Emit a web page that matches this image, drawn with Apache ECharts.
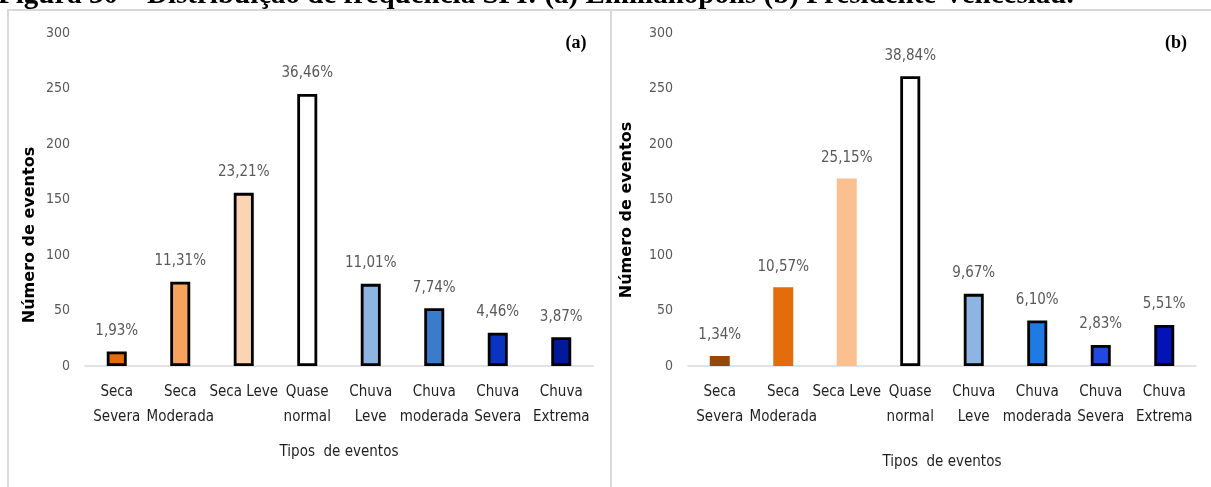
<!DOCTYPE html>
<html>
<head>
<meta charset="utf-8">
<script src="https://cdn.jsdelivr.net/npm/echarts@6/dist/echarts.min.js"></script>
<style>
html,body{margin:0;padding:0;background:#fff;}
#chart{width:1211px;height:487px;}
</style>
</head>
<body>
<div id="chart"></div>
<script>
// ---- data ----
const categories = ['Seca\nSevera', 'Seca\nModerada', 'Seca Leve', 'Quase\nnormal', 'Chuva\nLeve', 'Chuva\nmoderada', 'Chuva\nSevera', 'Chuva\nExtrema'];
const countsA = [13, 76, 156, 245, 74, 52, 30, 26];
const pctA = ['1,93%', '11,31%', '23,21%', '36,46%', '11,01%', '7,74%', '4,46%', '3,87%'];
const countsB = [9, 71, 169, 261, 65, 41, 19, 37];
const pctB = ['1,34%', '10,57%', '25,15%', '38,84%', '9,67%', '6,10%', '2,83%', '5,51%'];
const yMin = 0, yMax = 300, yStep = 50;
const titleText = 'Figura 30 – Distribuição de frequência SPI: (a) Emilianópolis (b) Presidente Venceslau.';
const xAxisTitle = 'Tipos  de eventos';
const yAxisTitle = 'Número de eventos';

// ---- styles ----
const colorsA = ['#E26B0A', '#F5A35E', '#FBD5B3', '#FFFFFF', '#8EB4E3', '#3A7BCB', '#0A33C2', '#021A9A'];
const bordersA = [true, true, true, true, true, true, true, true];
const colorsB = ['#974806', '#E46C0A', '#FAC090', '#FFFFFF', '#8EB4E3', '#1F7BE3', '#2347E3', '#0313B8'];
const bordersB = [false, false, false, true, true, true, true, true];

const narrow = "'Liberation Sans Narrow', 'DejaVu Sans Condensed', 'Liberation Sans', sans-serif";

function buildData(counts, colors, borders) {
  return counts.map((v, i) => ({
    value: v,
    itemStyle: {
      color: colors[i],
      borderColor: borders[i] ? '#000000' : colors[i],
      borderWidth: 2.8
    }
  }));
}

const chart = echarts.init(document.getElementById('chart'), null, {renderer: 'canvas'});

function xAxisDef(gi) {
  return {
    type: 'category', gridIndex: gi, data: categories,
    axisLine: {show: true, lineStyle: {color: '#D9D9D9', width: 1.5}},
    axisTick: {show: false},
    axisLabel: {interval: 0, color: '#1F1F1F', fontFamily: narrow, fontSize: 15, lineHeight: 25, margin: 14}
  };
}
function yAxisDef(gi) {
  return {
    type: 'value', gridIndex: gi, min: yMin, max: yMax, interval: yStep,
    axisLine: {show: false}, axisTick: {show: false},
    splitLine: {show: false},
    axisLabel: {color: '#595959', fontFamily: narrow, fontSize: 14, margin: 15}
  };
}
function seriesDef(gi, counts, pcts, colors, borders) {
  return {
    type: 'bar', xAxisIndex: gi, yAxisIndex: gi,
    data: buildData(counts, colors, borders),
    barWidth: 20,
    label: {
      show: true, position: 'top', distance: 13,
      color: '#595959', fontFamily: narrow, fontSize: 15,
      formatter: p => pcts[p.dataIndex]
    }
  };
}

chart.setOption({
  backgroundColor: '#FFFFFF',
  animation: false,
  grid: [
    {left: 85, right: 618, top: 33, bottom: 121},
    {left: 688, right: 15, top: 33, bottom: 121}
  ],
  xAxis: [xAxisDef(0), xAxisDef(1)],
  yAxis: [yAxisDef(0), yAxisDef(1)],
  series: [
    seriesDef(0, countsA, pctA, colorsA, bordersA),
    seriesDef(1, countsB, pctB, colorsB, bordersB)
  ],
  graphic: [
    {type: 'rect', shape: {x: 8, y: 10, width: 603, height: 500}, style: {fill: 'none', stroke: '#D9D9D9', lineWidth: 2}, z: -1},
    {type: 'rect', shape: {x: 611, y: 10, width: 620, height: 500}, style: {fill: 'none', stroke: '#D9D9D9', lineWidth: 2}, z: -1},
    {type: 'text', x: -2, y: 10, style: {text: titleText, fill: '#000', font: "bold 29px 'Liberation Serif', serif", textAlign: 'left', textVerticalAlign: 'bottom'}},
    {type: 'text', x: 576, y: 43, style: {text: '(a)', fill: '#000', font: "bold 18px 'Liberation Serif', serif", textAlign: 'center', textVerticalAlign: 'middle'}},
    {type: 'text', x: 1176, y: 43, style: {text: '(b)', fill: '#000', font: "bold 18px 'Liberation Serif', serif", textAlign: 'center', textVerticalAlign: 'middle'}},
    {type: 'text', x: 339, y: 452, style: {text: xAxisTitle, fill: '#1F1F1F', font: "15px " + narrow, textAlign: 'center', textVerticalAlign: 'middle'}},
    {type: 'text', x: 942, y: 462, style: {text: xAxisTitle, fill: '#1F1F1F', font: "15px " + narrow, textAlign: 'center', textVerticalAlign: 'middle'}},
    {type: 'text', x: 30, y: 235, rotation: Math.PI / 2, style: {text: yAxisTitle, fill: '#000', font: "bold 16px 'DejaVu Sans', sans-serif", textAlign: 'center', textVerticalAlign: 'middle'}},
    {type: 'text', x: 627, y: 210, rotation: Math.PI / 2, style: {text: yAxisTitle, fill: '#000', font: "bold 16px 'DejaVu Sans', sans-serif", textAlign: 'center', textVerticalAlign: 'middle'}}
  ]
});
</script>
</body>
</html>
